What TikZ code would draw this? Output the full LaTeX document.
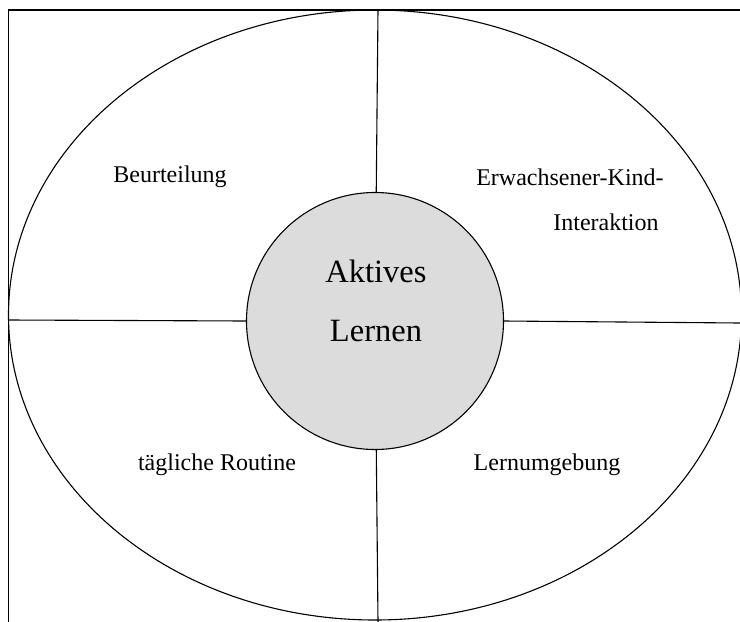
\documentclass[tikz,border=0pt]{standalone}
\usepackage{fontspec}
\setmainfont{Liberation Serif}
\begin{document}
\begin{tikzpicture}[x=1pt,y=-1pt,
  line/.style={draw=black,line width=1.1pt},
  lbl/.style={font=\fontsize{24}{28}\selectfont,inner sep=0pt,anchor=center},
  big/.style={font=\fontsize{32.5}{36}\selectfont,inner sep=0pt,anchor=center},
  hub/.style={circle,draw=black,line width=1.1pt,fill=hubgray,minimum size=257pt,inner sep=0pt}]
\definecolor{hubgray}{RGB}{220,220,220}
\useasboundingbox (0,0) rectangle (740,622);
\begin{scope}
\clip (0,0) rectangle (740,622);
\draw[line width=1.4pt] (8.5,10) rectangle (760,640);
\draw[line] (375,315) ellipse [x radius=366.5pt, y radius=305pt];
\end{scope}
\coordinate (top) at (378,10);
\coordinate (bot) at (378,622);
\coordinate (lft) at (9,320);
\coordinate (rgt) at (740,323);
\node[hub] (c) at (375,321) {};
\node[big] (a1) at (376,271) {Aktives};
\node[big] (a2) at (376,331) {Lernen};
\draw[line] (top) -- (c);
\draw[line] (c) -- (bot);
\draw[line] (lft) -- (c.west);
\draw[line] (c.east) -- (rgt);
\node[lbl] (b) at (170,177) {Beurteilung};
\node[lbl] (e1) at (570,177) {Erwachsener-Kind-};
\node[lbl] (e2) at (606,222) {Interaktion};
\node[lbl] (t) at (217,465) {tägliche Routine};
\node[lbl] (l) at (547,465) {Lernumgebung};
\end{tikzpicture}
\end{document}
